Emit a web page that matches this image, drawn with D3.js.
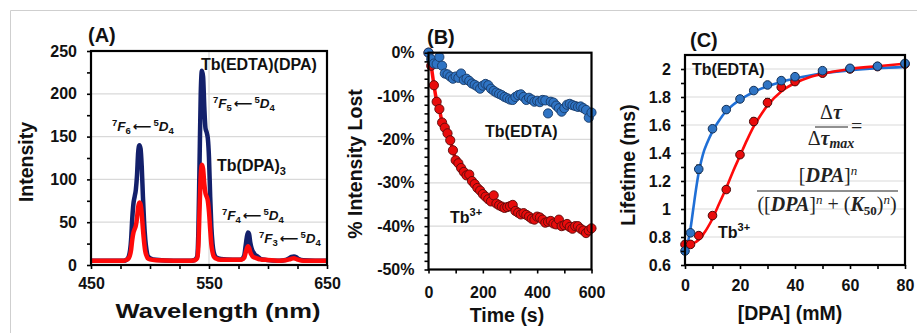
<!DOCTYPE html>
<html>
<head>
<meta charset="utf-8">
<script src="https://cdn.jsdelivr.net/npm/d3@7"></script>
<style>
  body { margin: 0; background: #fff; }
  text { font-family: "Liberation Sans", Arial, sans-serif; }
</style>
</head>
<body>
<svg id="chart" width="917" height="333"></svg>
<script>
// ---- (A) emission spectra ----
const wavelength = [450,460,470,478,480,482,484,485,486,487,488,489,490,491,492,493,494,495,496,497,498,500,505,520,535,538,540,541,542,543,544,545,546,547,548,549,550,551,552,553,554,556,560,570,576,578,580,581,582,583,584,585,586,587,588,589,590,592,594,598,610,615,618,620,622,624,626,630,640,650];
const tbEdtaDpa = [5,5,5,5,6,10,30,55,72,80,88,105,132,140,136,115,80,50,30,18,11,8,6,5,5,6,10,40,120,200,227,220,185,160,155,148,125,80,45,25,15,9,7,6,6,7,12,22,32,38,36,26,20,16,14,12,11,9,7,6,5,6,8,9.5,10,9,7,5.5,5,5];
const tbDpa3 = [5,5,5,5,6,8,18,30,38,42,46,55,68,73,71,60,42,27,16,11,8,6.5,5.5,5,5,5.5,8,22,65,105,117,112,95,84,80,75,62,42,24,15,10,7.5,6,6,6,6.5,9,14,19,22,20,15,12,10,9,8.5,8,7,6.5,6,5,5.5,6.5,7.5,8,7,6,5,5,5];
const specTicksX = [450,475,500,525,550,575,600,625,650];
const specTicksY = [0,25,50,75,100,125,150,175,200,225,250];

// ---- (B) intensity lost vs time ----
const timeS = [0,10,20,30,40,50,60,70,80,90,100,110,120,130,140,150,160,170,180,190,200,210,220,230,240,250,260,270,280,290,300,310,320,330,340,350,360,370,380,390,400,410,420,430,440,450,460,470,480,490,500,510,520,530,540,550,560,570,580,590,600];
const lostEdta = [0,-1.5,-2.5,-2.6,-1,-3,-4.8,-5,-5.5,-6,-5.5,-5.8,-4.8,-6.3,-6,-6.5,-7.1,-7.4,-7.8,-8.3,-7.6,-7.2,-7.5,-8.3,-8.8,-9.2,-9.5,-9.8,-10.2,-10.5,-10.8,-10.9,-10.2,-9.8,-9.6,-10.2,-10.9,-10.4,-10.8,-11.3,-11.1,-11.4,-10.9,-11,-14,-11.3,-11.5,-12.2,-12.8,-13.6,-12.8,-12,-11.8,-12.1,-12.3,-12.5,-12.4,-12.8,-13.2,-15,-13.8];
const lostTb = [0,-3,-7.5,-11.3,-13,-16.1,-17.3,-18.6,-20.2,-22.5,-24.8,-25.5,-26.6,-27.5,-28.3,-28.1,-29.6,-30.3,-31.2,-31.8,-32.6,-33.2,-33.8,-34.3,-32.9,-34.8,-35.2,-35.5,-35.8,-35.6,-35.4,-35.1,-36.5,-36.9,-37.3,-37,-37.4,-37.8,-38.3,-38.5,-37.8,-38,-38.5,-39.2,-39,-38.8,-39.4,-39.6,-38.5,-40,-39.8,-39.5,-40.2,-40.6,-40,-40,-40.6,-41,-41.6,-41,-40.5];
const lostTicksX = [0,100,200,300,400,500,600];
const lostTicksY = [-50,-48,-46,-44,-42,-40,-38,-36,-34,-32,-30,-28,-26,-24,-22,-20,-18,-16,-14,-12,-10,-8,-6,-4,-2,0];

// ---- (C) lifetime vs [DPA] ----
const dpaConc = [0,2,5,10,15,20,25,30,35,40,50,60,70,80];
const lifeEdta = [0.70,0.83,1.285,1.573,1.71,1.786,1.846,1.886,1.917,1.945,1.988,2.005,2.02,2.04];
const errEdta = [0.01,0.01,0.03,0.01,0.01,0.012,0.012,0.012,0.015,0.01,0.01,0.01,0.01,0.01];
const lifeTb = [0.747,0.747,0.81,0.953,1.139,1.388,1.625,1.76,1.87,1.91,1.97,2.0,2.017,2.035];
const errTb = [0.01,0.01,0.01,0.012,0.012,0.02,0.025,0.03,0.025,0.012,0.01,0.01,0.01,0.01];
const fitConc = [0,1,2,3,4,5,6,7,8,10,12,15,17.5,20,22.5,25,27.5,30,35,40,45,50,60,70,80];
const fitEdta = [0.72,0.76,0.86,1.0,1.14,1.26,1.35,1.42,1.47,1.555,1.62,1.70,1.745,1.78,1.81,1.835,1.858,1.877,1.908,1.932,1.952,1.968,1.99,2.005,2.015];
const fitTb = [0.745,0.746,0.75,0.755,0.765,0.78,0.80,0.83,0.86,0.93,1.02,1.15,1.27,1.38,1.49,1.59,1.67,1.74,1.84,1.90,1.94,1.965,2.0,2.02,2.038];
const lifeTicksX = [0,10,20,30,40,50,60,70,80];
const lifeTicksY = [0.6,0.7,0.8,0.9,1.0,1.1,1.2,1.3,1.4,1.5,1.6,1.7,1.8,1.9,2.0];

const svg = d3.select("#chart");

// light frame round the figure
svg.append("path").attr("d", "M10.5,333 V10.5 H917")
  .attr("fill", "none").attr("stroke", "#cfcfcf").attr("stroke-width", 1);

const gridColor = "#d9d9d9";

function frame(x, y, opts) {
  const g = svg.append("g");
  const [x0, x1] = x.range(), [y0, y1] = y.range();
  // horizontal grid
  g.selectAll(".hg").data(opts.gridY).join("line")
    .attr("x1", x0).attr("x2", x1)
    .attr("y1", d => y(d)).attr("y2", d => y(d))
    .attr("stroke", gridColor).attr("stroke-width", 1.2);
  if (opts.gridX) {
    g.selectAll(".vg").data(opts.gridX).join("line")
      .attr("x1", d => x(d)).attr("x2", d => x(d))
      .attr("y1", y0).attr("y2", y1)
      .attr("stroke", gridColor).attr("stroke-width", 1.2);
  }
  return g;
}

function axes(x, y, opts) {
  const [x0, x1] = x.range(), [y0, y1] = y.range();
  const ax = svg.append("g").attr("transform", "translate(0," + y0 + ")")
    .call(d3.axisBottom(x).tickValues(opts.ticksX).tickSize(4).tickPadding(opts.padX)
      .tickFormat(d => opts.labelsX.includes(d) ? opts.fmtX(d) : ""));
  const ay = svg.append("g").attr("transform", "translate(" + x0 + ",0)")
    .call(d3.axisLeft(y).tickValues(opts.ticksY).tickSize(4).tickPadding(10)
      .tickFormat(d => opts.labelsY.some(v => Math.abs(v - d) < 1e-9) ? opts.fmtY(d) : ""));
  [ax, ay].forEach(a => {
    a.select(".domain").remove();
    a.selectAll(".tick line").attr("stroke", "#000").attr("stroke-width", 1.6);
    a.selectAll("text").attr("fill", "#111").style("font-size", "16px").style("font-weight", "bold");
  });
  // box
  svg.append("rect").attr("x", x0).attr("y", y1).attr("width", x1 - x0).attr("height", y0 - y1)
    .attr("fill", "none").attr("stroke", "#000").attr("stroke-width", 2.2);
}

function title(txt, x, y, rot, len) {
  const t = svg.append("text").attr("text-anchor", "middle")
    .attr("transform", "translate(" + x + "," + y + ")" + (rot ? " rotate(-90)" : ""))
    .style("font-size", "19.5px").style("font-weight", "bold").attr("fill", "#111").text(txt);
  if (len) t.attr("textLength", len).attr("lengthAdjust", "spacingAndGlyphs");
}

function label(txt, x, y, size) {
  return svg.append("text").attr("x", x).attr("y", y)
    .style("font-size", (size || 16) + "px").style("font-weight", "bold").attr("fill", "#111").text(txt);
}

function transition(x, y, lower) {
  const t = svg.append("text").attr("x", x).attr("y", y)
    .style("font-size", "13.5px").style("font-weight", "bold").attr("fill", "#111");
  t.append("tspan").attr("dy", -5).style("font-size", "9.5px").text("7");
  t.append("tspan").attr("dy", 5).style("font-style", "italic").text("F");
  t.append("tspan").attr("dy", 3).style("font-size", "9.5px").text(lower);
  t.append("tspan").attr("dy", -3).attr("dx", 2)
    .style("font-family", "'DejaVu Sans', sans-serif").style("font-size", "13px").text("\u27F5");
  t.append("tspan").attr("dy", -5).attr("dx", 2).style("font-size", "9.5px").text("5");
  t.append("tspan").attr("dy", 5).style("font-style", "italic").text("D");
  t.append("tspan").attr("dy", 3).style("font-size", "9.5px").text("4");
}

// ================= (A) =================
const xA = d3.scaleLinear().domain([450, 650]).range([91, 327]);
const yA = d3.scaleLinear().domain([0, 250]).range([265, 51]);
frame(xA, yA, { gridY: [50, 100, 150, 200], gridX: [550] });

const specLine = d3.line().x((d, i) => xA(wavelength[i])).y(d => yA(d)).curve(d3.curveMonotoneX);
svg.append("path").datum(tbEdtaDpa).attr("d", specLine)
  .attr("fill", "none").attr("stroke", "#13206b").attr("stroke-width", 4.5).attr("stroke-linejoin", "round");
svg.append("path").datum(tbDpa3).attr("d", specLine)
  .attr("fill", "none").attr("stroke", "#ff0a0a").attr("stroke-width", 4.5).attr("stroke-linejoin", "round");

axes(xA, yA, {
  ticksX: specTicksX, labelsX: [450, 550, 650], fmtX: d => d, padX: 9,
  ticksY: specTicksY, labelsY: [0, 50, 100, 150, 200, 250], fmtY: d => d
});
title("Intensity", 33, 162, true);
title("Wavelength (nm)", 218, 318, false, 205);
label("(A)", 88, 42, 20);
label("Tb(EDTA)(DPA)", 201, 70);
const tbDpa = label("Tb(DPA)", 217, 171);
tbDpa.append("tspan").attr("dy", 4).style("font-size", "11px").text("3");
transition(112, 131, "6");
transition(213, 108, "5");
transition(222, 220, "4");
transition(259, 243, "3");

// ================= (B) =================
const xB = d3.scaleLinear().domain([0, 600]).range([428.5, 591.5]);
const yB = d3.scaleLinear().domain([-50, 0]).range([269.5, 52.7]);
frame(xB, yB, { gridY: [-40, -30, -20, -10] });

svg.append("path").datum(lostTb)
  .attr("d", d3.line().x((d, i) => xB(timeS[i])).y(d => yB(d)))
  .attr("fill", "none").attr("stroke", "#ff0a0a").attr("stroke-width", 3.5);
svg.append("g").selectAll("circle").data(lostTb).join("circle")
  .attr("cx", (d, i) => xB(timeS[i])).attr("cy", d => yB(d)).attr("r", 4.6)
  .attr("fill", "#e80c0c").attr("stroke", "#5a0a0a").attr("stroke-width", 0.9);
svg.append("g").selectAll("circle").data(lostEdta).join("circle")
  .attr("cx", (d, i) => xB(timeS[i])).attr("cy", d => yB(d)).attr("r", 4.6)
  .attr("fill", "#2f74c4").attr("stroke", "#183a66").attr("stroke-width", 0.9);

axes(xB, yB, {
  ticksX: lostTicksX, labelsX: [0, 200, 400, 600], fmtX: d => d, padX: 13,
  ticksY: lostTicksY, labelsY: [0, -10, -20, -30, -40, -50], fmtY: d => d + "%"
});
title("% Intensity Lost", 362, 164, true);
title("Time (s)", 507, 322, false);
label("(B)", 427, 44, 20);
label("Tb(EDTA)", 485, 137);
const tb3 = label("Tb", 450, 223);
tb3.append("tspan").attr("dy", -7).style("font-size", "11px").text("3+");

// ================= (C) =================
const xC = d3.scaleLinear().domain([0, 80]).range([685, 905]);
const yC = d3.scaleLinear().domain([0.6, 2.1]).range([265, 55]);
frame(xC, yC, { gridY: [0.8, 1.0, 1.2, 1.4, 1.6, 1.8, 2.0] });

const fitLine = d3.line().x((d, i) => xC(fitConc[i])).y(d => yC(d)).curve(d3.curveMonotoneX);
svg.append("path").datum(fitEdta).attr("d", fitLine)
  .attr("fill", "none").attr("stroke", "#1f6fd6").attr("stroke-width", 2.6);
svg.append("path").datum(fitTb).attr("d", fitLine)
  .attr("fill", "none").attr("stroke", "#ff0a0a").attr("stroke-width", 2.6);

function errorBars(vals, errs) {
  const g = svg.append("g").attr("stroke", "#222").attr("stroke-width", 1.1);
  vals.forEach((v, i) => {
    const cx = xC(dpaConc[i]);
    g.append("line").attr("x1", cx).attr("x2", cx).attr("y1", yC(v - errs[i])).attr("y2", yC(v + errs[i]));
    [v - errs[i], v + errs[i]].forEach(e =>
      g.append("line").attr("x1", cx - 2.5).attr("x2", cx + 2.5).attr("y1", yC(e)).attr("y2", yC(e)));
  });
}
errorBars(lifeTb, errTb);
errorBars(lifeEdta, errEdta);
svg.append("g").selectAll("circle").data(lifeTb).join("circle")
  .attr("cx", (d, i) => xC(dpaConc[i])).attr("cy", d => yC(d)).attr("r", 4.3)
  .attr("fill", "#e80c0c").attr("stroke", "#4a0808").attr("stroke-width", 1);
svg.append("g").selectAll("circle").data(lifeEdta).join("circle")
  .attr("cx", (d, i) => xC(dpaConc[i])).attr("cy", d => yC(d)).attr("r", 4.3)
  .attr("fill", "#2f74c4").attr("stroke", "#122f55").attr("stroke-width", 1);

axes(xC, yC, {
  ticksX: lifeTicksX, labelsX: [0, 20, 40, 60, 80], fmtX: d => d, padX: 11,
  ticksY: lifeTicksY, labelsY: [0.6, 0.8, 1.0, 1.2, 1.4, 1.6, 1.8, 2.0], fmtY: d => d3.format("~g")(d)
});
title("Lifetime (ms)", 635, 165, true);
title("[DPA] (mM)", 790, 320, false);
label("(C)", 690, 47, 20);
label("Tb(EDTA)", 692, 75);
const tb3c = label("Tb", 718, 238);
tb3c.append("tspan").attr("dy", -7).style("font-size", "11px").text("3+");

// Hill equation
const eq = svg.append("g").attr("fill", "#222");
function mathText(x, y, anchor) {
  return eq.append("text").attr("x", x).attr("y", y).attr("text-anchor", anchor || "middle")
    .style("font-family", "'Liberation Serif', 'DejaVu Serif', serif").style("font-size", "20px");
}
let t = mathText(831, 119);
t.append("tspan").text("\u0394");
t.append("tspan").style("font-style", "italic").style("font-weight", "bold").text("\u03C4");
eq.append("line").attr("x1", 815).attr("x2", 848).attr("y1", 127).attr("y2", 127).attr("stroke", "#222").attr("stroke-width", 1.1);
t = mathText(831, 145);
t.append("tspan").text("\u0394");
t.append("tspan").style("font-style", "italic").style("font-weight", "bold").text("\u03C4");
t.append("tspan").attr("dy", 3).style("font-style", "italic").style("font-weight", "bold").style("font-size", "14px").text("max");
mathText(851, 133, "start").text("=");

t = mathText(828, 182);
t.append("tspan").text("[");
t.append("tspan").style("font-style", "italic").style("font-weight", "bold").text("DPA");
t.append("tspan").text("]");
t.append("tspan").attr("dy", -7).style("font-style", "italic").style("font-size", "13px").text("n");
eq.append("line").attr("x1", 757).attr("x2", 898).attr("y1", 191).attr("y2", 191).attr("stroke", "#222").attr("stroke-width", 1.1);
t = mathText(827, 211);
t.append("tspan").text("([");
t.append("tspan").style("font-style", "italic").style("font-weight", "bold").text("DPA");
t.append("tspan").text("]");
t.append("tspan").attr("dy", -7).style("font-style", "italic").style("font-size", "13px").text("n");
t.append("tspan").attr("dy", 7).text(" + (");
t.append("tspan").style("font-style", "italic").style("font-weight", "bold").text("K");
t.append("tspan").attr("dy", 4).style("font-weight", "bold").style("font-size", "13px").text("50");
t.append("tspan").attr("dy", -4).text(")");
t.append("tspan").attr("dy", -7).style("font-style", "italic").style("font-size", "13px").text("n");
t.append("tspan").attr("dy", 7).text(")");
</script>
</body>
</html>
